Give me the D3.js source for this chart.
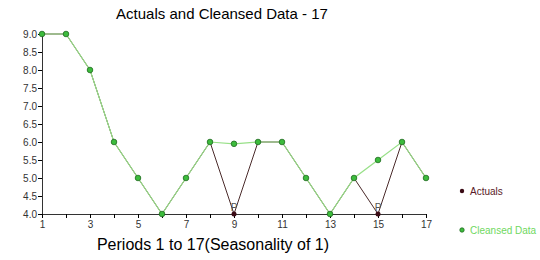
<!DOCTYPE html>
<html>
<head>
<meta charset="utf-8">
<script src="https://cdn.jsdelivr.net/npm/d3@7"></script>
<style>
body { margin: 0; background: #fff; }
text { font-family: "Liberation Sans", Arial, sans-serif; }
</style>
</head>
<body>
<div id="chart"></div>
<script>
const WIDTH = 540, HEIGHT = 260;
const periods = d3.range(1, 18);
const actuals = [9, 9, 8, 6, 5, 4, 5, 6, 4, 6, 6, 5, 4, 5, 4, 6, 5];
const cleansed = [9, 9, 8, 6, 5, 4, 5, 6, 5.95, 6, 6, 5, 4, 5, 5.5, 6, 5];
const yTicks = [4.0, 4.5, 5.0, 5.5, 6.0, 6.5, 7.0, 7.5, 8.0, 8.5, 9.0];
const xLabels = [1, 3, 5, 7, 9, 11, 13, 15, 17];
const legendItems = ["Actuals", "Cleansed Data"];
const legendColors = ["#5a1a28", "#6fd860"];

const x = d3.scaleLinear().domain([1, 17]).range([42, 426]);
const y = d3.scaleLinear().domain([4, 9]).range([214, 34]);

const svg = d3.select("#chart").append("svg")
    .attr("width", WIDTH)
    .attr("height", HEIGHT)

svg.append("text")
    .attr("x", 222).attr("y", 19)
    .attr("text-anchor", "middle")
    .style("font-size", "15px")
    .text("Actuals and Cleansed Data - 17")

// axes
const yAxis = svg.append("g")
    .attr("transform", `translate(${x(1)},0)`)
    .call(d3.axisLeft(y).tickValues(yTicks).tickFormat(d3.format(".1f")).tickSize(4).tickPadding(1))
yAxis.select(".domain").attr("stroke", "#333")
yAxis.selectAll("text").style("font-size", "10px").attr("fill", "#333")

const xAxis = svg.append("g")
    .attr("transform", `translate(0,${y(4)})`)
    .call(d3.axisBottom(x).tickValues(periods).tickSize(4).tickPadding(3)
        .tickFormat(d => xLabels.includes(d) ? d : ""))
xAxis.select(".domain").attr("stroke", "#333")
xAxis.selectAll("text").style("font-size", "10px").attr("fill", "#333")

svg.append("text")
    .attr("x", 213).attr("y", 250)
    .attr("text-anchor", "middle")
    .style("font-size", "16px")
    .text("Periods 1 to 17(Seasonality of 1)")

const line = d3.line().x((d, i) => x(periods[i])).y(d => y(d))

// actuals line under the cleansed line
svg.append("path")
    .datum(actuals)
    .attr("d", line)
    .attr("fill", "none")
    .attr("stroke", "#4a2a2a")
    .attr("stroke-width", 1)

svg.append("path")
    .datum(cleansed)
    .attr("d", line)
    .attr("fill", "none")
    .attr("stroke", "#98e088")
    .attr("stroke-width", 1.2)

// actual points that differ from cleansed
const diffIdx = periods.map((p, i) => i).filter(i => actuals[i] !== cleansed[i])
svg.selectAll(".pflag").data(diffIdx).enter().append("text")
    .attr("x", i => x(periods[i]))
    .attr("y", i => y(actuals[i]) - 3)
    .attr("text-anchor", "middle")
    .style("font-size", "10px")
    .attr("fill", "#555")
    .text("P")
svg.selectAll(".act").data(diffIdx).enter().append("circle")
    .attr("cx", i => x(periods[i]))
    .attr("cy", i => y(actuals[i]))
    .attr("r", 2.5)
    .attr("fill", "#3a0a14")

svg.selectAll(".cl").data(cleansed).enter().append("circle")
    .attr("cx", (d, i) => x(periods[i]))
    .attr("cy", d => y(d))
    .attr("r", 2.8)
    .attr("fill", "#3cbc3c")
    .attr("stroke", "#1f6a1f")
    .attr("stroke-width", 0.8)

// legend
const legend = svg.selectAll(".leg").data(legendItems).enter().append("g")
    .attr("transform", (d, i) => `translate(462,${191 + i * 39})`)
legend.append("circle")
    .attr("r", 2.2)
    .attr("fill", (d, i) => i === 0 ? "#3a0a14" : "#3cbc3c")
    .attr("stroke", (d, i) => i === 0 ? "none" : "#1f6a1f")
    .attr("stroke-width", 0.8)
legend.append("text")
    .attr("x", 8).attr("y", 3.5)
    .style("font-size", "10px")
    .attr("fill", (d, i) => legendColors[i])
    .text(d => d)
</script>
</body>
</html>
